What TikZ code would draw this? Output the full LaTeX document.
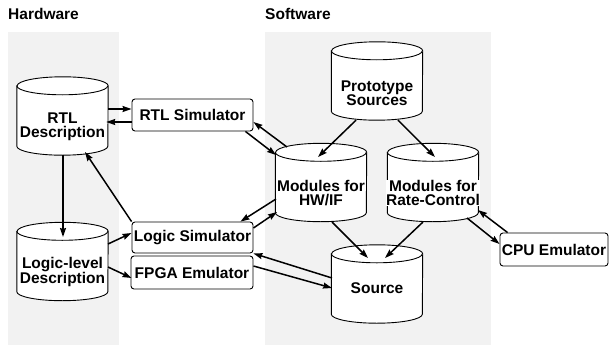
\documentclass[tikz,border=0pt]{standalone}
\usepackage{fontspec}
\setmainfont{Liberation Sans}
\usetikzlibrary{arrows.meta}
\tikzset{
    panel/.style = {fill=black!5, draw=none},
    heading/.style = {anchor=base west, inner sep=0pt, font=\bfseries\fontsize{15.5}{15}\selectfont},
    dbase/.style = {rectangle, minimum width=91pt, minimum height=78pt, inner sep=0pt},
    dbase-line/.style = {draw, fill=white, line width=0.9pt},
    dbase-text/.style = {fill=white, inner sep=0.5pt, align=center, font=\bfseries\fontsize{15.5}{14.5}\selectfont},
    tool-box/.style = {draw, fill=white, rounded corners=3pt, line width=0.9pt, minimum width=121pt, minimum height=32pt, inner sep=1pt, font=\bfseries\fontsize{15.5}{15}\selectfont},
    flow/.style = {line width=1.5pt, -{Stealth[length=9pt,width=6pt,inset=1pt]}},
}

\begin{document}
\begin{tikzpicture}[x=1pt, y=-1pt]
\useasboundingbox (0,0) rectangle (609,345);

% the two areas
\fill[panel] (8,32) rectangle (119,345);
\fill[panel] (265,32) rectangle (491,345);
\node[heading] (hwtitle) at (8,20) {Hardware};
\node[heading] (swtitle) at (265,20) {Software};

% databases
\node[dbase] (rtldesc) at (62.5,116) {};
\node[dbase] (logicdesc) at (62.5,261.5) {};
\node[dbase] (proto) at (377,81) {};
\node[dbase] (hwif) at (321,182.5) {};
\node[dbase] (ratectl) at (433,182.5) {};
\node[dbase] (source) at (377,284) {};

\foreach \db in {rtldesc,logicdesc,proto,hwif,ratectl,source} {
    \draw[dbase-line] ([shift={(0,9)}]\db.north west) -- ([shift={(0,-9)}]\db.south west)
        arc[start angle=180, end angle=0, x radius=45.5, y radius=9]
        -- ([shift={(0,9)}]\db.north east)
        arc[start angle=0, end angle=-180, x radius=45.5, y radius=9] -- cycle;
    \draw[line width=0.9pt] ([shift={(0,9)}]\db.north west)
        arc[start angle=180, end angle=0, x radius=45.5, y radius=9];
}

\node[dbase-text] (rtldesc-t) at ([shift={(0,11)}]rtldesc.center) {RTL\\Description};
\node[dbase-text] (logicdesc-t) at ([shift={(0,10.5)}]logicdesc.center) {Logic-level\\Description};
\node[dbase-text] (proto-t) at ([shift={(0,12)}]proto.center) {Prototype\\Sources};
\node[dbase-text] (hwif-t) at ([shift={(0,10.5)}]hwif.center) {Modules for\\HW/IF};
\node[dbase-text] (ratectl-t) at ([shift={(0,10.5)}]ratectl.center) {Modules for\\Rate-Control};
\node[dbase-text] (source-t) at ([shift={(0,4)}]source.center) {Source};

% tools
\node[tool-box] (rtlsim) at (192.5,115) {RTL Simulator};
\node[tool-box, minimum height=31pt] (logicsim) at (192.5,237.5) {Logic Simulator};
\node[tool-box, minimum width=122pt, minimum height=33pt] (fpga) at (192,272.5) {FPGA Emulator};
\node[tool-box, minimum width=108pt, minimum height=33pt] (cpu) at (554,249.5) {CPU Emulator};

% hardware side
\draw[flow] ([shift={(0,-7)}]rtldesc.east) -- ([shift={(0,-6)}]rtlsim.west);
\draw[flow] ([shift={(0,7)}]rtlsim.west) -- ([shift={(-2,6)}]rtldesc.east);
\draw[flow] ([shift={(0.5,0)}]rtldesc.south) -- ([shift={(0.5,-24.5)}]logicdesc.center);
\draw[flow] (logicsim.north west) -- ([shift={(22.5,36)}]rtldesc.center);
\draw[flow] ([shift={(45.5,-17.5)}]logicdesc.center) -- ([shift={(0,-4.5)}]logicsim.west);
\draw[flow] ([shift={(45.5,5.5)}]logicdesc.center) -- ([shift={(1,5.5)}]fpga.west);

% software side
\draw[flow] ([shift={(-34,-35.5)}]hwif.center) -- ([shift={(0,7)}]rtlsim.east);
\draw[flow] ([shift={(-8,0)}]rtlsim.south east) -- ([shift={(-45,-27.5)}]hwif.center);
\draw[flow] ([shift={(-21,0)}]proto.south) -- ([shift={(-3,-25.5)}]hwif.center);
\draw[flow] ([shift={(21,0)}]proto.south) -- ([shift={(2,-25.5)}]ratectl.center);
\draw[flow] ([shift={(-45,16.5)}]hwif.center) -- ([shift={(-13,0)}]logicsim.north east);
\draw[flow] ([shift={(0,-9.5)}]logicsim.east) -- ([shift={(-44,29.5)}]hwif.center);
\draw[flow] ([shift={(-45,-6)}]source.center) -- (logicsim.south east);
\draw[flow] ([shift={(0,-6.5)}]fpga.east) -- ([shift={(-45,4)}]source.center);
\draw[flow] ([shift={(11,39.5)}]hwif.center) -- ([shift={(-9,-26)}]source.center);
\draw[flow] ([shift={(-10,39.5)}]ratectl.center) -- ([shift={(8,-26)}]source.center);
\draw[flow] ([shift={(8,0)}]cpu.north west) -- ([shift={(45,27.5)}]ratectl.center);
\draw[flow] ([shift={(34,35.5)}]ratectl.center) -- ([shift={(0,-5.5)}]cpu.west);
\end{tikzpicture}
\end{document}
